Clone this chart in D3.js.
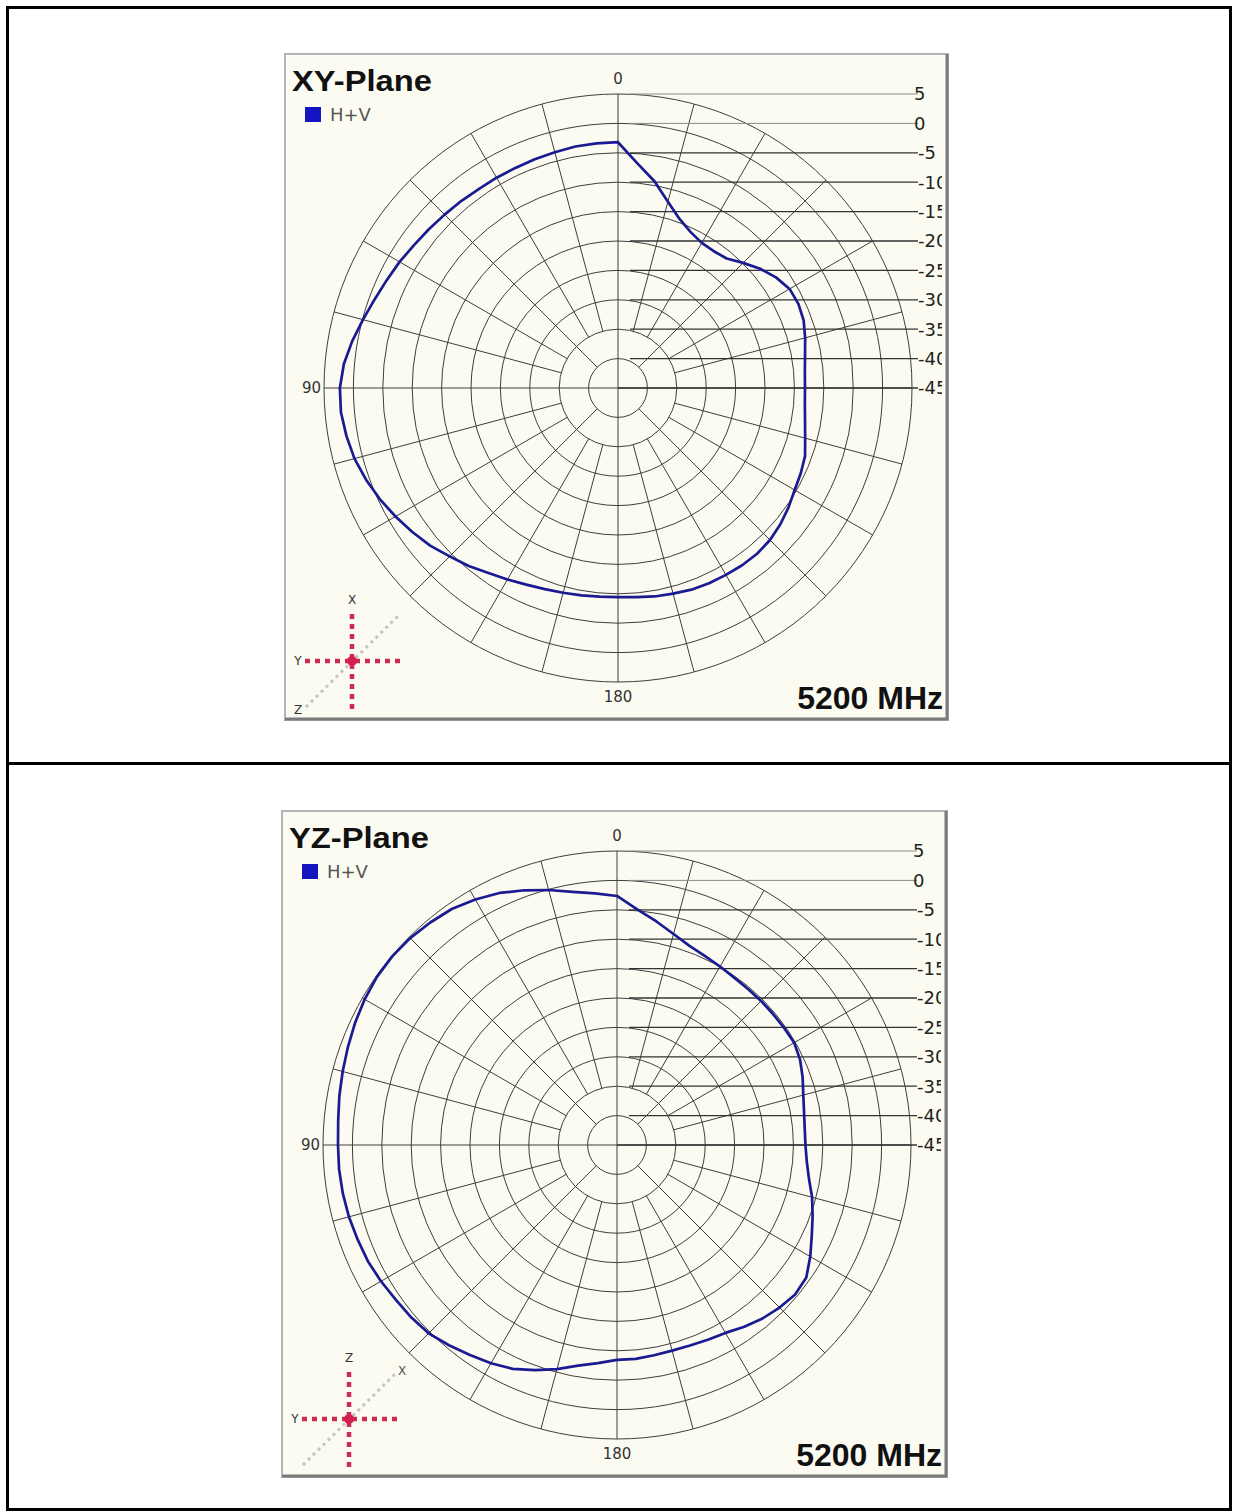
<!DOCTYPE html>
<html>
<head>
<meta charset="utf-8">
<script src="https://cdn.jsdelivr.net/npm/d3@7"></script>
<style>
  body { margin: 0; background: #fff; }
  svg { display: block; }
</style>
</head>
<body>
<svg width="1238" height="1512"></svg>
<script>
const svg = d3.select("svg");
const width = +svg.attr("width");
const height = +svg.attr("height");

// angles in degrees, counter-clockwise from top (0 top, 90 left, 180 bottom)
const angles = d3.range(0, 360, 5);

// XY-Plane, H+V, dB
const xyPlaneDb = [
  -3.2, -3.25, -3.3, -3.5, -3.6, -3.7, -3.7, -3.7, -3.5, -3.3, -3.0, -2.65,
  -2.1, -1.6, -0.95, -0.1, 0.9, 1.8, 2.3, 2.3, 1.9, 1.4, 0.6, -0.3,
  -1.3, -2.3, -3.3, -4.5, -5.5, -6.6, -7.4, -8.1, -8.6, -8.95, -9.2, -9.4,
  -9.45, -9.3, -9.0, -8.8, -8.5, -8.35, -8.3, -8.2, -8.2, -8.45, -8.95, -9.6,
  -10.3, -10.7, -11.15, -12.05, -12.7, -13.1, -13.2, -13.1, -12.7, -12.05, -11.4, -11.15,
  -11.3, -12.2, -13.45, -14.9, -16.25, -16.6, -16.5, -15.75, -14.4, -12.2, -9.3, -6.7
];

// YZ-Plane, H+V, dB
const yzPlaneDb = [
  -2.65, -2.05, -1.3, -0.1, 1.1, 2.3, 3.2, 4.0, 4.4, 4.75, 4.9, 4.85,
  4.55, 4.15, 3.7, 3.3, 2.95, 2.6, 2.45, 2.45, 2.35, 2.2, 1.95, 1.75,
  1.35, 0.9, 0.65, 0.3, -0.55, -1.4, -2.15, -3.0, -4.25, -5.55, -6.9, -7.75,
  -8.45, -8.5, -8.7, -8.8, -8.7, -8.45, -8.1, -7.25, -6.5, -5.9, -5.45, -5.7,
  -7.05, -8.45, -9.6, -10.65, -11.85, -12.6, -12.95, -12.95, -12.7, -12.2, -11.4, -10.65,
  -10.2, -10.3, -10.35, -10.35, -10.35, -10.25, -9.95, -9.55, -8.95, -7.85, -6.4, -4.8
];

const ringLevels = [5, 0, -5, -10, -15, -20, -25, -30, -35, -40, -45];
const angleLabels = ["0", "90", "180"];
const seriesName = "H+V";
const freqLabel = "5200 MHz";

const panels = [
  { title: "XY-Plane", values: xyPlaneDb, x0: 285, y0: 54, w: 663, h: 666, cx: 618, cy: 388,
    axes: { up: "X", left: "Y", diag: "Z", diagAtEnd: false }, icon: [352, 661] },
  { title: "YZ-Plane", values: yzPlaneDb, x0: 282, y0: 811, w: 665, h: 666, cx: 617, cy: 1145,
    axes: { up: "Z", left: "Y", diag: "X", diagAtEnd: true }, icon: [349, 1419] }
];

const outerR = 294;
const r = d3.scaleLinear().domain([-45, 5]).range([0, outerR]);

// outer table
svg.append("rect").attr("width", width).attr("height", height).attr("fill", "#fff");
const frame = svg.append("g").attr("stroke", "#000").attr("stroke-width", 3);
frame.append("rect").attr("x", 7.5).attr("y", 7.5).attr("width", 1223).attr("height", 1502).attr("fill", "none");
frame.append("line").attr("x1", 7).attr("x2", 1231).attr("y1", 763.5).attr("y2", 763.5);

panels.forEach(function(p, i) {
  const g = svg.append("g");

  g.append("clipPath").attr("id", "clip" + i)
    .append("rect").attr("x", p.x0).attr("y", p.y0).attr("width", p.w - 6).attr("height", p.h - 4);

  // panel background and bevel
  g.append("rect")
    .attr("x", p.x0).attr("y", p.y0).attr("width", p.w).attr("height", p.h)
    .attr("fill", "#fcfbf1").attr("stroke", "#b4b4b4").attr("stroke-width", 2);
  g.append("path")
    .attr("d", `M${p.x0 + p.w - 1},${p.y0} V${p.y0 + p.h - 1} H${p.x0}`)
    .attr("fill", "none").attr("stroke", "#7a7a7a").attr("stroke-width", 3);

  const plot = g.append("g").attr("clip-path", `url(#clip${i})`);
  const c = plot.append("g").attr("transform", `translate(${p.cx},${p.cy})`);

  // rings
  c.append("g").selectAll("circle")
    .data(ringLevels.filter(d => d > -45))
    .join("circle")
    .attr("r", d => r(d))
    .attr("fill", "none")
    .attr("stroke", "#3e3e3e")
    .attr("stroke-width", 1);

  // spokes
  const spokes = d3.range(0, 360, 15).map(function(a) {
    let start = r(-35);
    if (a % 90 === 0) start = 0;
    else if (a % 45 === 0) start = r(-40);
    return { a: a, start: start };
  });
  c.append("g").selectAll("line")
    .data(spokes)
    .join("line")
    .attr("x1", d => -d.start * Math.sin(d.a * Math.PI / 180))
    .attr("y1", d => -d.start * Math.cos(d.a * Math.PI / 180))
    .attr("x2", d => -outerR * Math.sin(d.a * Math.PI / 180))
    .attr("y2", d => -outerR * Math.cos(d.a * Math.PI / 180))
    .attr("stroke", "#3e3e3e")
    .attr("stroke-width", 1);

  // dB level lines and labels on the right
  const lev = c.append("g");
  lev.selectAll("line")
    .data(ringLevels)
    .join("line")
    .attr("x1", d => d === -45 ? 0 : 12)
    .attr("x2", 300)
    .attr("y1", d => -r(d))
    .attr("y2", d => -r(d))
    .attr("stroke", d => d > -5 ? "#8a8a8a" : "#333")
    .attr("stroke-width", d => d > -5 ? 1 : 1.3);
  lev.selectAll("text")
    .data(ringLevels)
    .join("text")
    .attr("x", d => d >= 0 ? 296 : 300)
    .attr("y", d => -r(d))
    .attr("dy", "0.36em")
    .attr("font-family", "DejaVu Sans, sans-serif")
    .attr("font-size", 18)
    .attr("fill", "#222")
    .text(d => d === 0 ? "0" : d > 0 ? String(d) : "-" + Math.abs(d));

  // angle labels
  c.append("text").attr("x", 0).attr("y", -outerR - 10)
    .attr("text-anchor", "middle").attr("font-family", "DejaVu Sans, sans-serif")
    .attr("font-size", 15).attr("fill", "#333").text(angleLabels[0]);
  c.append("text").attr("x", -outerR - 3).attr("y", 0).attr("dy", "0.35em")
    .attr("text-anchor", "end").attr("font-family", "DejaVu Sans, sans-serif")
    .attr("font-size", 15).attr("fill", "#333").text(angleLabels[1]);
  c.append("text").attr("x", 0).attr("y", outerR + 20)
    .attr("text-anchor", "middle").attr("font-family", "DejaVu Sans, sans-serif")
    .attr("font-size", 15).attr("fill", "#333").text(angleLabels[2]);

  // pattern
  const line = d3.lineRadial()
    .angle((d, j) => -angles[j] * Math.PI / 180)
    .radius(d => r(d))
    .curve(d3.curveLinearClosed);
  c.append("path")
    .datum(p.values)
    .attr("d", line)
    .attr("fill", "none")
    .attr("stroke", "#1a1a92")
    .attr("stroke-width", 2.7)
    .attr("stroke-linejoin", "round");

  // title and legend
  g.append("text")
    .attr("x", p.x0 + 7).attr("y", p.y0 + 37)
    .attr("font-family", "Liberation Sans, Arial, sans-serif")
    .attr("font-weight", "bold").attr("font-size", 30).attr("fill", "#111")
    .attr("textLength", 140).attr("lengthAdjust", "spacingAndGlyphs")
    .text(p.title);
  g.append("rect")
    .attr("x", p.x0 + 20).attr("y", p.y0 + 53).attr("width", 16).attr("height", 15)
    .attr("fill", "#1414c0");
  g.append("text")
    .attr("x", p.x0 + 45).attr("y", p.y0 + 67)
    .attr("font-family", "DejaVu Sans, sans-serif")
    .attr("font-size", 18).attr("fill", "#555")
    .text(seriesName);

  g.append("text")
    .attr("x", p.x0 + p.w - 5).attr("y", p.y0 + p.h - 11)
    .attr("text-anchor", "end")
    .attr("font-family", "Liberation Sans, Arial, sans-serif")
    .attr("font-weight", "bold").attr("font-size", 32).attr("fill", "#111")
    .text(freqLabel);

  // axis orientation icon
  const ic = g.append("g").attr("transform", `translate(${p.icon[0]},${p.icon[1]})`);
  ic.append("line").attr("x1", -46).attr("y1", 46).attr("x2", 47).attr("y2", -46)
    .attr("stroke", "#c4c4c4").attr("stroke-width", 3).attr("stroke-dasharray", "3,4");
  ic.append("line").attr("x1", 0).attr("y1", -47).attr("x2", 0).attr("y2", 50)
    .attr("stroke", "#cc2a55").attr("stroke-width", 4.5).attr("stroke-dasharray", "5,5");
  ic.append("line").attr("x1", -47).attr("y1", 0).attr("x2", 50).attr("y2", 0)
    .attr("stroke", "#cc2a55").attr("stroke-width", 4.5).attr("stroke-dasharray", "5,5");
  ic.append("circle").attr("r", 5).attr("fill", "#d42050");
  const lab = { "font-family": "DejaVu Sans, sans-serif", "font-size": 12, fill: "#333" };
  function icText(x, y, t, col) {
    const tx = ic.append("text").attr("x", x).attr("y", y).attr("text-anchor", "middle").text(t);
    Object.entries(lab).forEach(([k, v]) => tx.attr(k, v));
    if (col) tx.attr("fill", col);
  }
  icText(0, -57, p.axes.up);
  icText(-54, 4, p.axes.left);
  if (p.axes.diagAtEnd) icText(53, -44, p.axes.diag, "#555");
  else icText(-54, 53, p.axes.diag);
});
</script>
</body>
</html>
